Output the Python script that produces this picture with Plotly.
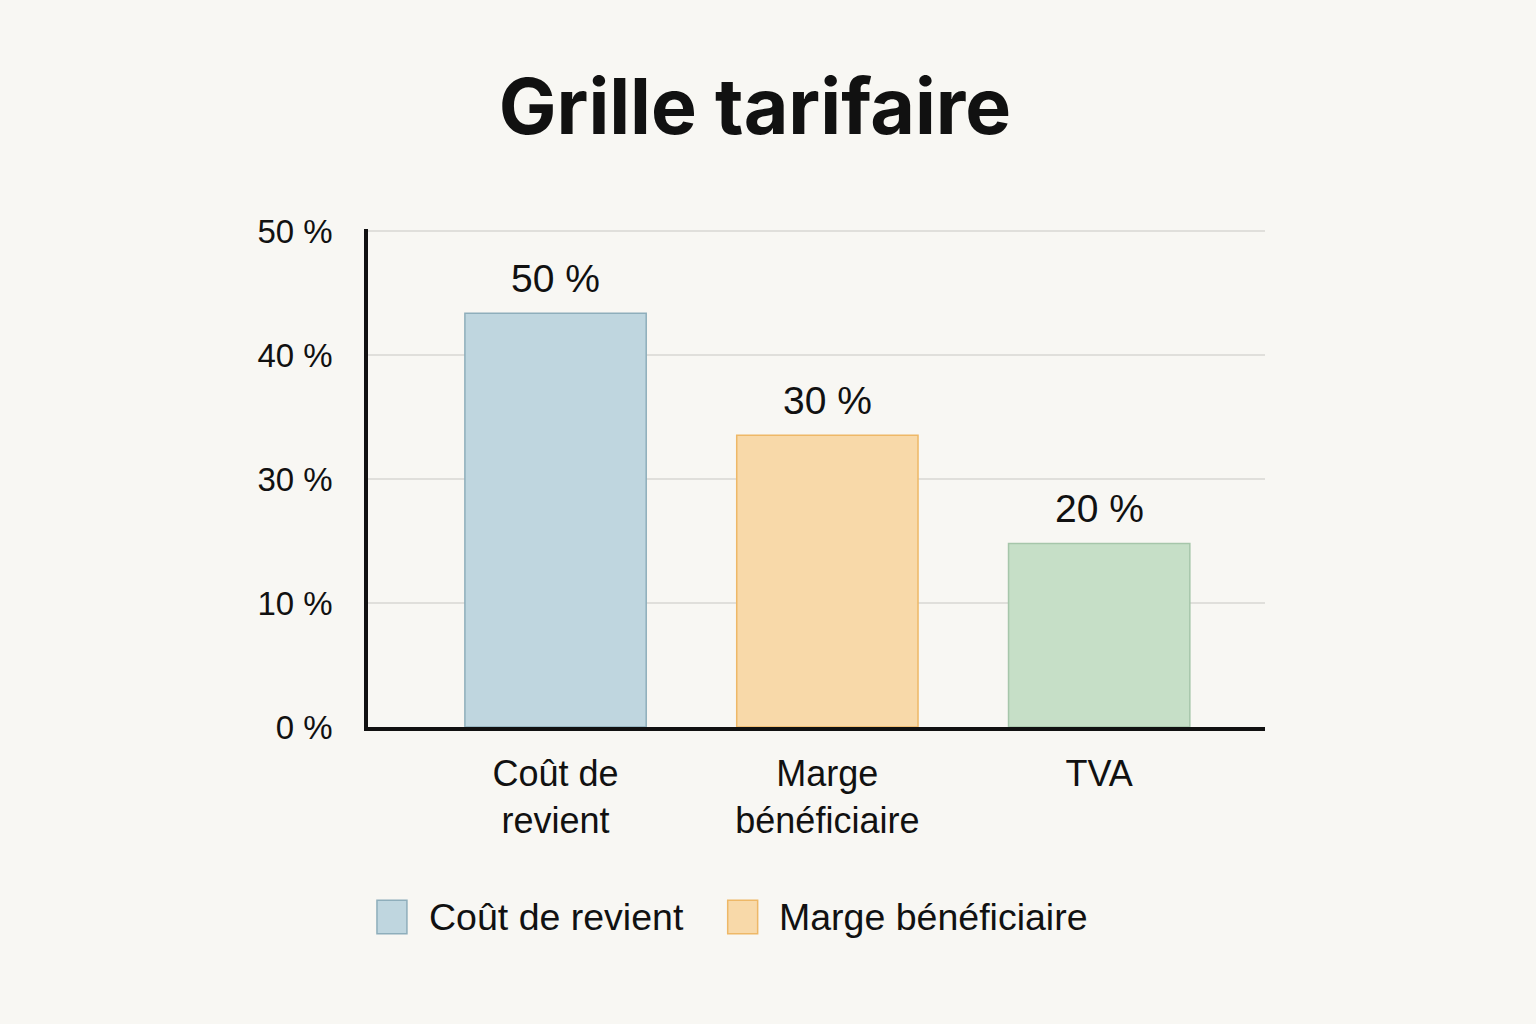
import plotly.graph_objects as go

# ---- data ----
categories = ["Coût de<br>revient", "Marge<br>bénéficiaire", "TVA"]
series_names = ["Coût de revient", "Marge bénéficiaire", "TVA"]
bar_heights = [41.7, 29.4, 18.5]          # bar heights on the drawn (evenly spaced) axis
bar_labels = ["50 %", "30 %", "20 %"]      # labels printed above the bars
tick_vals = [0, 12.5, 25, 37.5, 50]
tick_text = ["0 %", "10 %", "30 %", "40 %", "50 %"]
show_in_legend = [True, True, False]

fills = ["#bfd6df", "#f8d9a9", "#c6dfc7"]
borders = ["#8eaebb", "#eeb867", "#a6c6aa"]

BG = "#f8f7f3"
TITLE_FONT = "Inter, Liberation Sans, Arial, sans-serif"
FONT = "Liberation Sans, Arial, sans-serif"
INK = "#111111"

fig = go.Figure()
for i in range(3):
    fig.add_trace(go.Bar(
        x=[categories[i]], y=[bar_heights[i]],
        name=series_names[i],
        marker=dict(color=fills[i], line=dict(color=borders[i], width=1.5)),
        width=0.667,
        showlegend=False,
    ))
    fig.add_annotation(
        x=categories[i], y=bar_heights[i], xref="x", yref="y",
        text=bar_labels[i], showarrow=False, yanchor="bottom", yshift=11,
        font=dict(size=39, color=INK, family=FONT),
    )

# legend drawn as swatches + labels below the plot
legend_x = [0.010, 0.401]   # paper x of each swatch's left edge
k = 0
for i in range(3):
    if not show_in_legend[i]:
        continue
    x0 = legend_x[k]
    fig.add_shape(type="rect", xref="paper", yref="paper",
                  x0=x0, x1=x0 + 0.0334, y0=-0.415, y1=-0.348,
                  fillcolor=fills[i], line=dict(color=borders[i], width=1.5))
    fig.add_annotation(x=x0 + 0.0555, y=-0.381, xref="paper", yref="paper",
                       text=series_names[i], showarrow=False,
                       xanchor="left", yanchor="middle",
                       font=dict(size=37.5, color=INK, family=FONT))
    k += 1

fig.update_layout(
    width=1536, height=1024,
    paper_bgcolor=BG, plot_bgcolor=BG,
    barmode="overlay",
    margin=dict(l=368, r=271, t=229, b=297),
    title=dict(text="<b>Grille tarifaire</b>", x=0.4915, xanchor="center",
               y=0.895, yanchor="middle",
               font=dict(size=77, color=INK, family=TITLE_FONT)),
    font=dict(family=FONT, color=INK),
    showlegend=False,
)

fig.update_xaxes(
    categoryorder="array", categoryarray=categories,
    range=[-0.69, 2.61],
    showline=True, linecolor=INK, linewidth=3.5,
    ticks="", showgrid=False,
    tickfont=dict(size=36, color=INK, family=FONT),
    ticklabelstandoff=12,
)
fig.update_yaxes(
    range=[0, 50.2],
    tickvals=tick_vals, ticktext=tick_text,
    showline=True, linecolor=INK, linewidth=3.5,
    showgrid=True, gridcolor="#e0dfdb", gridwidth=2,
    zeroline=False, ticks="",
    tickfont=dict(size=33, color=INK, family=FONT),
    ticklabelstandoff=25,
)

fig.write_html("out.html")
